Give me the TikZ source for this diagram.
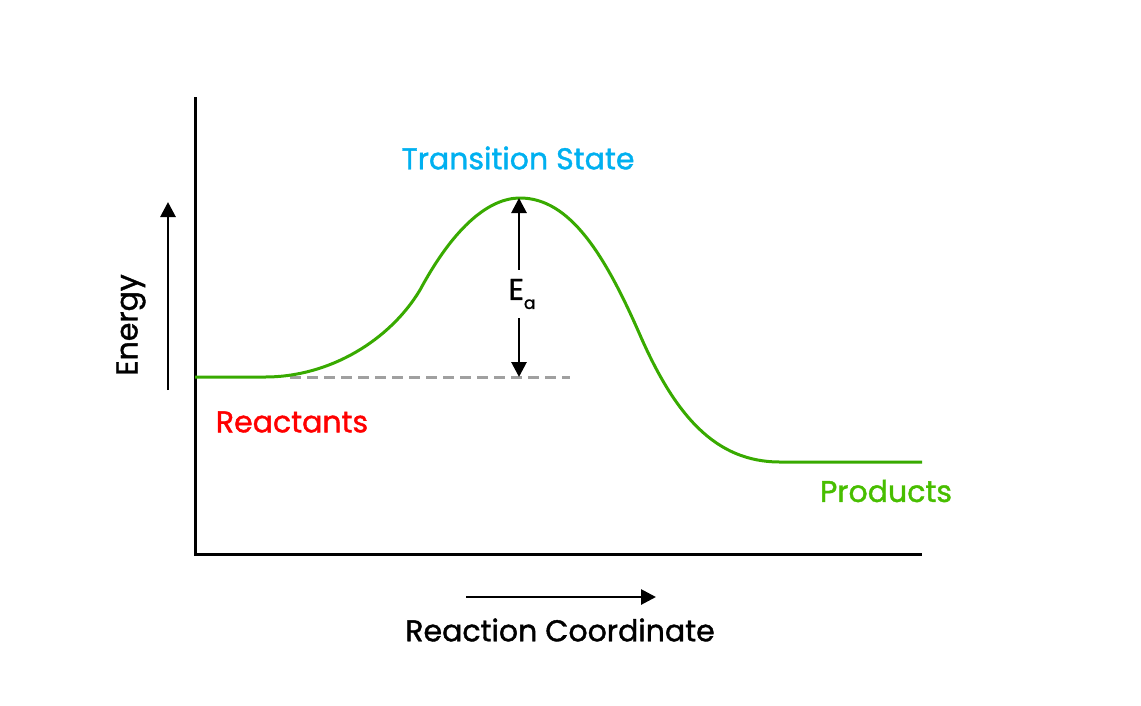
\documentclass[tikz,border=0pt]{standalone}
\usepackage{fontspec}
\setmainfont[FakeBold=1.3]{Poppins}
\usetikzlibrary{arrows.meta}
\definecolor{tscyan}{RGB}{0,176,240}
\definecolor{rxred}{RGB}{255,0,0}
\definecolor{crvgreen}{RGB}{56,170,0}
\definecolor{prgreen}{RGB}{72,190,0}
\definecolor{dashgray}{RGB}{160,160,160}
\tikzset{
  lbl/.style={font=\fontsize{30}{36}\selectfont, inner sep=0pt},
  axis/.style={line width=3pt},
  arr/.style={line width=2.8pt, -{Triangle[length=15pt,width=15pt]}},
}
\begin{document}
\begin{tikzpicture}[x=1pt,y=-1pt]
\useasboundingbox (0,0) rectangle (1141,705);
\coordinate (ytop) at (195,97);
\coordinate (orig) at (195,554);
\coordinate (xend) at (922,554);
\draw[axis] (ytop) -- (orig) -- (xend);
\coordinate (en0) at (168,390);
\coordinate (en1) at (168,202);
\draw[arr] (en0) -- (en1);
\node[lbl, rotate=90] (energy) at (131,325) {Energy};
\coordinate (rc0) at (466,597);
\coordinate (rc1) at (656,597);
\draw[arr] (rc0) -- (rc1);
\node[lbl] (rxc) at (560,630) {Reaction Coordinate};
\coordinate (dsh0) at (290,377);
\coordinate (dsh1) at (570,377);
\draw[dashgray, line width=3pt, dash pattern=on 11pt off 6pt] (dsh0) -- (dsh1);
\coordinate (r0) at (195,377);
\coordinate (r1) at (265,377);
\coordinate (up) at (420,290);
\coordinate (ts) at (520,198);
\coordinate (dn) at (640,335);
\coordinate (p0) at (780,462);
\coordinate (p1) at (922,462);
\draw[crvgreen, line width=3pt] (r0) -- (r1)
  .. controls (330,377) and (390,340) .. (up)
  .. controls (455,225) and (490,198) .. (ts)
  .. controls (570,198) and (605,255) .. (dn)
  .. controls (675,415) and (715,462) .. (p0) -- (p1);
\coordinate (ea0) at (519,198);
\coordinate (ea1) at (519,377);
\node[lbl, minimum height=48pt] (ealbl) at (522,294) {E\raisebox{-9pt}{\fontsize{17}{17}\selectfont a}};
\draw[arr] (ealbl.north -| ea0) -- (ea0);
\draw[arr] (ealbl.south -| ea1) -- (ea1);
\node[lbl, tscyan] (tslbl) at (518,158) {Transition State};
\node[lbl, rxred] (rxlbl) at (292,422) {Reactants};
\node[lbl, prgreen] (prlbl) at (886,491) {Products};
\end{tikzpicture}
\end{document}
